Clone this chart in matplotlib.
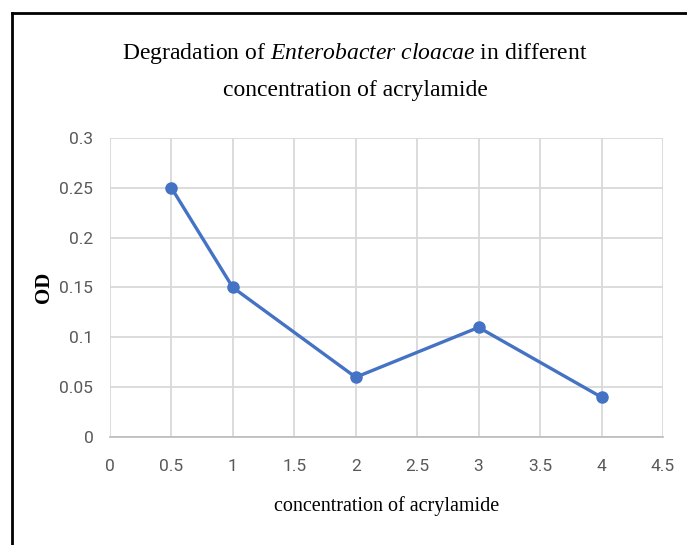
# Degradation of Enterobacter cloacae - OD vs acrylamide concentration
import matplotlib.pyplot as plt
from matplotlib.lines import Line2D

# dados
concentracao = [0.5, 1, 2, 3, 4]
od = [0.25, 0.15, 0.06, 0.11, 0.04]
x_ticks = [0, 0.5, 1, 1.5, 2, 2.5, 3, 3.5, 4, 4.5]
y_ticks = [0, 0.05, 0.1, 0.15, 0.2, 0.25, 0.3]

tick_font = ['Liberation Sans Narrow', 'Roboto']
serif = 'Liberation Serif'

plt.rcParams['mathtext.fontset'] = 'custom'
plt.rcParams['mathtext.rm'] = 'Liberation Serif'
plt.rcParams['mathtext.it'] = 'Liberation Serif:italic'

fig = plt.figure(figsize=(6.87, 5.45), dpi=100)
ax = fig.add_axes([0.160, 0.198, 0.805, 0.549])

ax.plot(concentracao, od, color='#4472C4', linewidth=2.4,
        marker='o', markersize=8, zorder=3)

ax.set_xlim(0, 4.5)
ax.set_ylim(0, 0.3)
ax.set_xticks(x_ticks)
ax.set_yticks(y_ticks)
ax.set_xticklabels([f"{v:g}" for v in x_ticks], family=tick_font,
                   fontsize=12.5, color='#595959')
ax.set_yticklabels([f"{v:g}" for v in y_ticks], family=tick_font,
                   fontsize=12.5, color='#595959')
ax.tick_params(axis='x', length=0, pad=16)
ax.tick_params(axis='y', length=0, pad=12)

ax.grid(True, color='#D9D9D9', linewidth=1.3)
ax.set_axisbelow(True)
for lado in ['top', 'right', 'left']:
    ax.spines[lado].set_visible(False)
ax.spines['bottom'].set_color('#BFBFBF')
ax.spines['bottom'].set_linewidth(1.3)

ax.set_xlabel("concentration of acrylamide", family=serif,
              fontsize=14.5, labelpad=16)
ax.set_ylabel("OD", family=serif, fontsize=15, fontweight='bold',
              labelpad=4)

fig.text(0.517, 0.902,
         r"Degradation of $\mathit{Enterobacter\ cloacae}$ in different",
         ha='center', va='center', family=serif, fontsize=17)
fig.text(0.517, 0.834, "concentration of acrylamide",
         ha='center', va='center', family=serif, fontsize=17)

# moldura (esquerda e topo)
fig.add_artist(Line2D([12 / 687, 12 / 687], [0, 1 - 13 / 545],
                      transform=fig.transFigure, color='black', linewidth=2))
fig.add_artist(Line2D([12 / 687, 1], [1 - 13 / 545, 1 - 13 / 545],
                      transform=fig.transFigure, color='black', linewidth=2))

fig.savefig("out.png", dpi=100)
